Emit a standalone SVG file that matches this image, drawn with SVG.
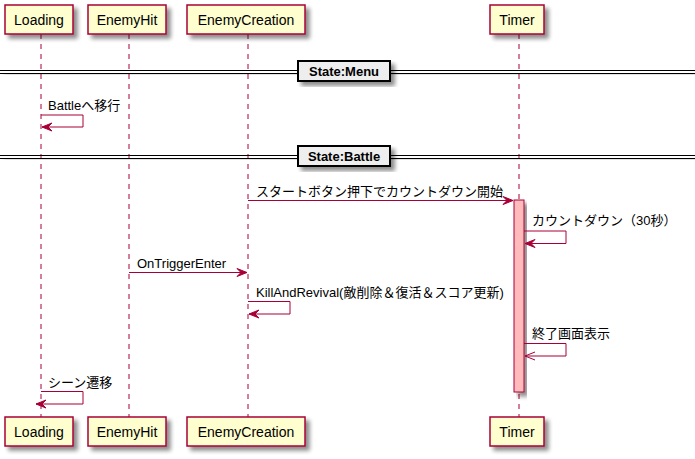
<svg xmlns="http://www.w3.org/2000/svg" width="695" height="459" viewBox="0 0 695 459">
<style>
.box{fill:#FEFECE;stroke:#A80036;stroke-width:1.5;}
.pt{font-family:"Liberation Sans","Noto Sans CJK JP",sans-serif;font-size:14px;fill:#000;text-anchor:middle;}
.life{stroke:#A80036;stroke-width:1;stroke-dasharray:5,5;fill:none;}
.msg{stroke:#A80036;stroke-width:1;fill:none;}
.lbl{font-family:"Liberation Sans","Noto Sans CJK JP",sans-serif;font-size:13px;fill:#000;}
.dline{stroke:#000;stroke-width:1;}
.dbox{fill:#EEEEEE;stroke:#000;stroke-width:2;}
.dtxt{font-family:"Liberation Sans","Noto Sans CJK JP",sans-serif;font-size:13px;font-weight:bold;fill:#000;text-anchor:middle;}
.act{fill:#FFBBBB;stroke:#A80036;stroke-width:1;}
</style>
<defs>
<filter id="sh" x="-20%" y="-20%" width="150%" height="150%">
<feGaussianBlur in="SourceAlpha" stdDeviation="2"/>
<feOffset dx="4" dy="4" result="b"/>
<feComponentTransfer><feFuncA type="linear" slope="0.45"/></feComponentTransfer>
<feMerge><feMergeNode/><feMergeNode in="SourceGraphic"/></feMerge>
</filter>
<marker id="ah" markerUnits="userSpaceOnUse" markerWidth="12" markerHeight="10" refX="10" refY="4" orient="auto" overflow="visible">
<path d="M0,0 L10,4 L0,8 L4,4 Z" fill="#A80036" stroke="#A80036" stroke-width="1"/>
</marker>
<marker id="oh" markerUnits="userSpaceOnUse" markerWidth="12" markerHeight="10" refX="10" refY="4" orient="auto" overflow="visible">
<path d="M0,0 L10,4 L0,8" fill="none" stroke="#A80036" stroke-width="1"/>
</marker>
</defs>
<rect width="695" height="459" fill="#FFFFFF"/>

<g id="lifelines">
<line class="life" x1="41" y1="34" x2="41" y2="417"/>
<line class="life" x1="129" y1="34" x2="129" y2="417"/>
<line class="life" x1="248" y1="34" x2="248" y2="417"/>
<line class="life" x1="519" y1="34" x2="519" y2="417"/>
</g>

<g id="Loading">
<rect class="box" x="5" y="5" width="68" height="29" filter="url(#sh)"/>
<text class="pt" x="39" y="25">Loading</text>
<rect class="box" x="5" y="417" width="68" height="29" filter="url(#sh)"/>
<text class="pt" x="39" y="437">Loading</text>
</g>
<g id="EnemyHit">
<rect class="box" x="88" y="5" width="78" height="29" filter="url(#sh)"/>
<text class="pt" x="127" y="25">EnemyHit</text>
<rect class="box" x="88" y="417" width="78" height="29" filter="url(#sh)"/>
<text class="pt" x="127" y="437">EnemyHit</text>
</g>
<g id="EnemyCreation">
<rect class="box" x="187" y="5" width="118" height="29" filter="url(#sh)"/>
<text class="pt" x="246" y="25">EnemyCreation</text>
<rect class="box" x="187" y="417" width="118" height="29" filter="url(#sh)"/>
<text class="pt" x="246" y="437">EnemyCreation</text>
</g>
<g id="Timer">
<rect class="box" x="490" y="5" width="54" height="29" filter="url(#sh)"/>
<text class="pt" x="517" y="25">Timer</text>
<rect class="box" x="490" y="417" width="54" height="29" filter="url(#sh)"/>
<text class="pt" x="517" y="437">Timer</text>
<rect class="act" x="514" y="200" width="10" height="192" filter="url(#sh)"/>
</g>

<g id="divider-menu">
<g filter="url(#sh)">
<line class="dline" x1="0" y1="70.5" x2="695" y2="70.5"/>
<line class="dline" x1="0" y1="73.5" x2="695" y2="73.5"/>
</g>
<rect class="dbox" x="298" y="61" width="92" height="20" filter="url(#sh)"/>
<text class="dtxt" x="344" y="76">State:Menu</text>
</g>
<g id="divider-battle">
<g filter="url(#sh)">
<line class="dline" x1="0" y1="155.5" x2="695" y2="155.5"/>
<line class="dline" x1="0" y1="158.5" x2="695" y2="158.5"/>
</g>
<rect class="dbox" x="298" y="146" width="92" height="20" filter="url(#sh)"/>
<text class="dtxt" x="344" y="161">State:Battle</text>
</g>

<g id="connectors">
<polyline class="msg" points="41,115 83,115 83,127 42,127" marker-end="url(#ah)"/>
<text class="lbl" x="48" y="110">Battleへ移行</text>

<line class="msg" x1="248" y1="200.5" x2="513" y2="200.5" marker-end="url(#ah)"/>
<text class="lbl" x="256" y="196">スタートボタン押下でカウントダウン開始</text>

<polyline class="msg" points="524,231 566,231 566,243.5 525,243.5" marker-end="url(#ah)"/>
<text class="lbl" x="532" y="225">カウントダウン（30秒）</text>

<line class="msg" x1="129" y1="272.5" x2="247" y2="272.5" marker-end="url(#ah)"/>
<text class="lbl" x="137" y="268">OnTriggerEnter</text>

<polyline class="msg" points="248,301.5 290,301.5 290,314 249,314" marker-end="url(#ah)"/>
<text class="lbl" x="256" y="297">KillAndRevival(敵削除＆復活＆スコア更新)</text>

<polyline class="msg" points="524,343.5 566,343.5 566,356 525,356" marker-end="url(#oh)"/>
<text class="lbl" x="532" y="338">終了画面表示</text>

<polyline class="msg" points="41,391.5 83,391.5 83,404 36,404" marker-end="url(#ah)"/>
<text class="lbl" x="48" y="387">シーン遷移</text>
</g>
</svg>
